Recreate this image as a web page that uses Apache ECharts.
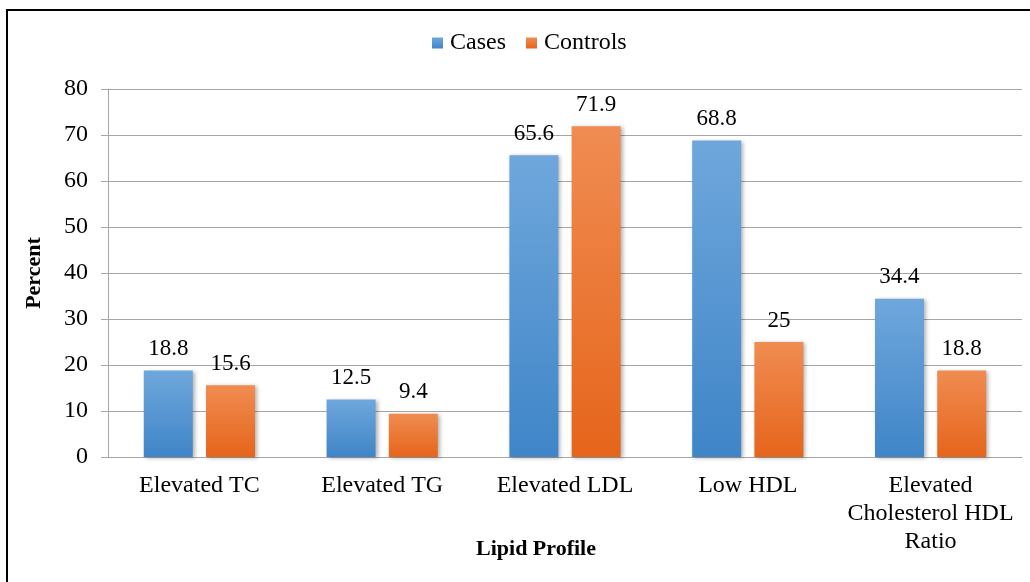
<!DOCTYPE html>
<html>
<head>
<meta charset="utf-8">
<style>
  html, body { margin: 0; padding: 0; background: #fff; overflow: hidden; }
  #chart { width: 1030px; height: 582px; }
</style>
<script src="https://cdn.jsdelivr.net/npm/echarts@6/dist/echarts.min.js"></script>
</head>
<body>
<div id="chart"></div>
<script>
// Lipid profile abnormalities (%) among cases and controls
const categories = ['Elevated TC', 'Elevated TG', 'Elevated LDL', 'Low HDL', 'Elevated\nCholesterol HDL\nRatio'];
const casesValues = [18.8, 12.5, 65.6, 68.8, 34.4];
const controlsValues = [15.6, 9.4, 71.9, 25, 18.8];
const seriesNames = ['Cases', 'Controls'];

const FONT = '"Liberation Serif", "Times New Roman", serif';
const GRID_GRAY = '#a6a6a6';

function vGrad(top, bottom) {
  return new echarts.graphic.LinearGradient(0, 0, 0, 1, [
    { offset: 0, color: top },
    { offset: 1, color: bottom }
  ]);
}

const labelStyle = {
  show: true,
  position: 'top',
  distance: 10,
  fontFamily: FONT,
  fontSize: 23,
  color: '#000'
};

const barShadow = {
  shadowColor: 'rgba(0,0,0,0.3)',
  shadowBlur: 4,
  shadowOffsetX: 2,
  shadowOffsetY: 1
};

const chart = echarts.init(document.getElementById('chart'), null, { renderer: 'canvas' });

chart.setOption({
  animation: false,
  backgroundColor: '#fff',
  textStyle: { fontFamily: FONT },
  graphic: [{
    type: 'rect',
    shape: { x: 7, y: 10, width: 1200, height: 800 },
    style: { fill: 'none', stroke: '#000', lineWidth: 2 },
    silent: true
  }],
  legend: {
    data: seriesNames,
    left: 427,
    top: 26,
    itemWidth: 11,
    itemHeight: 11,
    itemGap: 20,
    icon: 'rect',
    textStyle: { fontFamily: FONT, fontSize: 24, color: '#000', padding: [0, 0, 0, 2] }
  },
  grid: { left: 108, right: 8, top: 89, bottom: 125, containLabel: false, outerBoundsMode: 'none' },
  xAxis: {
    type: 'category',
    data: categories,
    name: 'Lipid Profile',
    nameLocation: 'middle',
    nameGap: 81,
    nameMoveOverlap: false,
    nameTextStyle: { fontFamily: FONT, fontSize: 22, fontWeight: 'bold', color: '#000', padding: [0, 58, 0, 0] },
    axisLine: { show: true, lineStyle: { color: GRID_GRAY, width: 1 } },
    axisTick: { show: false },
    axisLabel: { interval: 0, margin: 15, fontFamily: FONT, fontSize: 24, color: '#000', lineHeight: 28 }
  },
  yAxis: {
    type: 'value',
    min: 0,
    max: 80,
    interval: 10,
    name: 'Percent',
    nameLocation: 'middle',
    nameGap: 63,
    nameMoveOverlap: false,
    nameTextStyle: { fontFamily: FONT, fontSize: 22, fontWeight: 'bold', color: '#000' },
    axisLine: { show: true, lineStyle: { color: GRID_GRAY, width: 1 } },
    axisTick: { show: true, length: 7, lineStyle: { color: GRID_GRAY } },
    axisLabel: { margin: 20, fontFamily: FONT, fontSize: 24, color: '#000' },
    splitLine: { show: true, lineStyle: { color: GRID_GRAY, width: 1 } }
  },
  series: [
    {
      name: seriesNames[0],
      type: 'bar',
      data: casesValues,
      barWidth: 49,
      barGap: '27%',
      color: '#5b9bd5',
      itemStyle: Object.assign({ color: vGrad('#6fa7dc', '#3f85c8') }, barShadow),
      label: labelStyle
    },
    {
      name: seriesNames[1],
      type: 'bar',
      data: controlsValues,
      barWidth: 49,
      color: '#ed7d31',
      itemStyle: Object.assign({ color: vGrad('#f08c52', '#e6651b') }, barShadow),
      label: labelStyle
    }
  ]
});
</script>
</body>
</html>
